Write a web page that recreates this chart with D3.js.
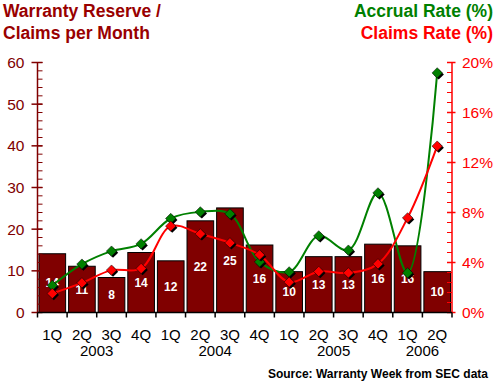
<!DOCTYPE html>
<html><head><meta charset="utf-8">
<script src="https://cdn.jsdelivr.net/npm/d3@7"></script>
<style>
html,body{margin:0;padding:0;background:#fff;}
svg{display:block;font-family:"Liberation Sans",Arial,sans-serif;}
</style></head>
<body>
<svg id="c" width="500" height="386"></svg>
<script>
const quarters = ["1Q","2Q","3Q","4Q","1Q","2Q","3Q","4Q","1Q","2Q","3Q","4Q","1Q","2Q"];
const years = ["2003","2004","2005","2006"];
const yearCounts = [4,4,4,2];
const reservePerMonth = [14.1,11.1,8.4,14.4,12.4,22.0,25.1,16.2,9.8,13.4,13.4,16.4,16.0,9.8];
const accrualRate = [2.16,3.87,4.91,5.49,7.52,8.05,7.89,4.05,3.25,6.13,4.99,9.57,3.17,19.17];
const claimsRate = [1.52,2.37,3.39,3.52,6.91,6.29,5.57,4.61,2.43,3.28,3.17,3.89,7.57,13.31];
const leftTicks = [0,10,20,30,40,50,60];
const rightTicks = [0,4,8,12,16,20];

const svg = d3.select("#c");
const L = 37.5, R = 452, T = 62.5, B = 312.5;
const idx = d3.range(quarters.length);
const x = d3.scaleBand().domain(idx).range([L, R]).paddingInner(0.1).paddingOuter(0.05);
const yL = d3.scaleLinear().domain([0,60]).range([B, T]);
const yR = d3.scaleLinear().domain([0,20]).range([B, T]);
const cx = i => x(i) + x.bandwidth()/2;

// bars
svg.append("g").selectAll("rect").data(reservePerMonth).join("rect")
  .attr("x", (d,i)=>x(i)).attr("y", d=>yL(d))
  .attr("width", x.bandwidth()).attr("height", d=>B - yL(d))
  .attr("fill","#800000").attr("stroke","#000").attr("stroke-width",1);

// bar labels
svg.append("g").selectAll("text").data(reservePerMonth).join("text")
  .attr("x",(d,i)=>cx(i)).attr("y", d=>(yL(d)+B)/2)
  .attr("dy","0.36em").attr("text-anchor","middle")
  .attr("fill","#fff").attr("font-weight","bold").attr("font-size","12px")
  .text(d=>Math.round(d));

// left axis
const gl = svg.append("g").attr("transform",`translate(${L},0)`);
gl.append("line").attr("y1",T).attr("y2",B).attr("stroke","#800000").attr("stroke-width",1.5);
gl.selectAll("line.mi").data(d3.range(0,61,2)).join("line").attr("class","mi")
  .attr("x1",0).attr("x2",5).attr("y1",d=>yL(d)).attr("y2",d=>yL(d)).attr("stroke","#800000");
gl.selectAll("line.ma").data(leftTicks).join("line").attr("class","ma")
  .attr("x1",-6).attr("x2",5).attr("y1",d=>yL(d)).attr("y2",d=>yL(d)).attr("stroke","#800000").attr("stroke-width",1.5);
gl.selectAll("text").data(leftTicks).join("text")
  .attr("x",-13).attr("y",d=>yL(d)).attr("dy","0.36em").attr("text-anchor","end")
  .attr("fill","#800000").attr("font-size","15.5px").text(d=>d);

// right axis
const gr = svg.append("g").attr("transform",`translate(${R},0)`);
gr.append("line").attr("y1",T).attr("y2",B).attr("stroke","#ff0000").attr("stroke-width",1.5);
gr.selectAll("line.mi").data(d3.range(0,25.5,1).map(i=>i*0.8)).join("line").attr("class","mi")
  .attr("x1",-5).attr("x2",0).attr("y1",d=>yR(d)).attr("y2",d=>yR(d)).attr("stroke","#ff0000");
gr.selectAll("line.ma").data(rightTicks).join("line").attr("class","ma")
  .attr("x1",-5).attr("x2",3.5).attr("y1",d=>yR(d)).attr("y2",d=>yR(d)).attr("stroke","#ff0000").attr("stroke-width",1.5);
gr.selectAll("text").data(rightTicks).join("text")
  .attr("x",10).attr("y",d=>yR(d)).attr("dy","0.36em").attr("text-anchor","start")
  .attr("fill","#ff0000").attr("font-size","15.5px").text(d=>d+"%");

// bottom axis
const gb = svg.append("g");
gb.append("line").attr("x1",L).attr("x2",R).attr("y1",B).attr("y2",B).attr("stroke","#000").attr("stroke-width",1.5);
const bounds = d3.range(quarters.length+1).map(i => L + (R-L)*i/quarters.length);
gb.selectAll("line.t").data(bounds).join("line").attr("class","t")
  .attr("x1",d=>d).attr("x2",d=>d).attr("y1",B).attr("y2",B+5).attr("stroke","#000").attr("stroke-width",1.5);
gb.selectAll("text.q").data(quarters).join("text").attr("class","q")
  .attr("x",(d,i)=>cx(i)).attr("y",340).attr("text-anchor","middle")
  .attr("fill","#000").attr("font-size","15px").text(d=>d);
let start = 0;
const yearPos = yearCounts.map(c => { const m = (cx(start) + cx(start+c-1))/2; start += c; return m; });
gb.selectAll("text.y").data(years).join("text").attr("class","y")
  .attr("x",(d,i)=>yearPos[i]).attr("y",356).attr("text-anchor","middle")
  .attr("fill","#000").attr("font-size","15px").text(d=>d);

// lines
const line = d3.line().x((d,i)=>cx(i)).y(d=>yR(d)).curve(d3.curveCatmullRom.alpha(0.5));
svg.append("path").attr("d", line(accrualRate)).attr("fill","none").attr("stroke","#008000").attr("stroke-width",2);
svg.append("path").attr("d", line(claimsRate)).attr("fill","none").attr("stroke","#ff0000").attr("stroke-width",2);

function diamonds(data, color){
  const g = svg.append("g");
  const s = 5.2;
  const dpath = `M0,${-s}L${s},0L0,${s}L${-s},0Z`;
  g.selectAll("path.sh").data(data).join("path").attr("class","sh")
    .attr("d", dpath).attr("transform",(d,i)=>`translate(${cx(i)+1.5},${yR(d)+1.5})`).attr("fill","#000");
  g.selectAll("path.mk").data(data).join("path").attr("class","mk")
    .attr("d", dpath).attr("transform",(d,i)=>`translate(${cx(i)},${yR(d)})`).attr("fill",color)
    .attr("stroke","#000").attr("stroke-width",0.5);
}
diamonds(accrualRate, "#008000");
diamonds(claimsRate, "#ff0000");

// titles
svg.append("text").attr("x",3).attr("y",17).attr("fill","#990000").attr("font-weight","bold").attr("font-size","17.5px").text("Warranty Reserve /");
svg.append("text").attr("x",3).attr("y",39).attr("fill","#990000").attr("font-weight","bold").attr("font-size","17.5px").text("Claims per Month");
svg.append("text").attr("x",493).attr("y",16.5).attr("text-anchor","end").attr("fill","#008000").attr("font-weight","bold").attr("font-size","17.5px").text("Accrual Rate (%)");
svg.append("text").attr("x",493).attr("y",39).attr("text-anchor","end").attr("fill","#ff0000").attr("font-weight","bold").attr("font-size","17.5px").text("Claims Rate (%)");
svg.append("text").attr("x",488).attr("y",378).attr("text-anchor","end").attr("fill","#000").attr("font-weight","bold").attr("font-size","12px")
  .text("Source: Warranty Week from SEC data");
</script>
</body></html>
